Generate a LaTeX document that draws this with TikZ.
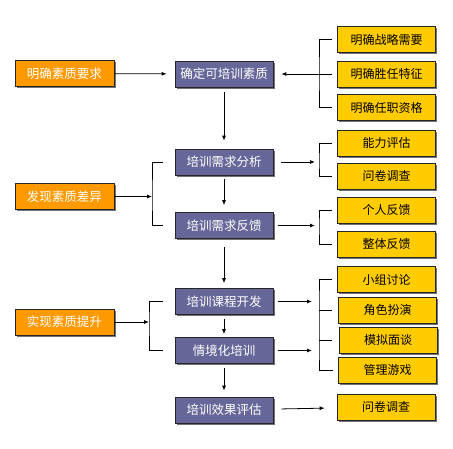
\documentclass[tikz,border=0pt]{standalone}
\usepackage{fontspec}
\setmainfont{Noto Sans CJK SC}
\usetikzlibrary{arrows.meta,shadows}
\definecolor{boxorange}{HTML}{FF9900}
\definecolor{boxpurple}{HTML}{666699}
\definecolor{boxyellow}{HTML}{FFCC00}
\begin{document}
\begin{tikzpicture}[x=1pt,y=-1pt,line width=0.8pt,
  box/.style={draw=black!85,line width=0.7pt,minimum height=26pt,inner sep=0pt,
    drop shadow={shadow xshift=1.5pt,shadow yshift=-1.5pt,fill=black!55,opacity=1}},
  orangebox/.style={box,fill=boxorange,minimum width=99pt,text=white,font=\fontsize{12.5}{13}\selectfont},
  purplebox/.style={box,fill=boxpurple,minimum width=98pt,text=white,font=\fontsize{12.5}{13}\selectfont},
  yellowbox/.style={box,fill=boxyellow,minimum width=98pt,text=black,font=\fontsize{12}{13}\selectfont},
  arr/.style={-{Latex[length=5pt,width=4pt]}}]
\useasboundingbox (0,0) rectangle (453,448);
% left column
\node[orangebox] (o1) at (64.5,73.5) {明确素质要求};
\node[orangebox] (o2) at (64.5,196.5) {发现素质差异};
\node[orangebox] (o3) at (64.5,322) {实现素质提升};
% middle column
\node[purplebox] (p1) at (224,74) {确定可培训素质};
\node[purplebox] (p2) at (224,162) {培训需求分析};
\node[purplebox] (p3) at (224,225.5) {培训需求反馈};
\node[purplebox] (p4) at (224,301.5) {培训课程开发};
\node[purplebox] (p5) at (224,350.5) {情境化培训};
\node[purplebox] (p6) at (224,410) {培训效果评估};
% right column
\node[yellowbox] (y1) at (386.5,39.5) {明确战略需要};
\node[yellowbox] (y2) at (386.5,74) {明确胜任特征};
\node[yellowbox] (y3) at (386.5,107.5) {明确任职资格};
\node[yellowbox] (y4) at (386.5,143) {能力评估};
\node[yellowbox] (y5) at (386.5,176) {问卷调查};
\node[yellowbox] (y6) at (386.5,210) {个人反馈};
\node[yellowbox] (y7) at (386.5,244) {整体反馈};
\node[yellowbox] (y8) at (386.5,279.5) {小组讨论};
\node[yellowbox] (y9) at (387.5,310) {角色扮演};
\node[yellowbox] (y10) at (388,340) {模拟面谈};
\node[yellowbox] (y11) at (387.5,370) {管理游戏};
\node[yellowbox] (y12) at (386,407) {问卷调查};
% bracket points
\coordinate (l2) at (152,196.5); \coordinate (l3) at (149,322);
\coordinate (r1) at (319,74); \coordinate (r2) at (319,162); \coordinate (r3) at (319,225.5);
\coordinate (r4a) at (319,301.5); \coordinate (r4b) at (319,350.5);
% down the middle
\draw[arr,shorten <=5pt,shorten >=8pt] (p1) -- (p2);
\draw[arr,shorten <=4pt,shorten >=7pt] (p2) -- (p3);
\draw[arr,shorten <=8pt,shorten >=5pt] (p3) -- (p4);
\draw[arr,shorten <=4pt,shorten >=3pt] (p4) -- (p5);
\draw[arr,shorten <=4pt,shorten >=6pt] (p5) -- (p6);
% left side
\draw[arr,shorten >=8pt] (o1) -- (p1);
\draw[arr] (o2) -- (l2);
\draw ([xshift=-12pt]p2.west) -| (l2) |- ([xshift=-12pt]p3.west);
\draw[arr] (o3) -- (l3);
\draw ([xshift=-12pt]p4.west) -| (l3) |- ([xshift=-12pt]p5.west);
% right side
\draw ([xshift=-5pt]y1.west) -| (r1) |- ([xshift=-5pt]y3.west);
\draw (r1) -- ([xshift=-5pt]y2.west);
\draw[arr,shorten >=8pt] (r1) -- (p1);
\draw ([xshift=-5pt]y4.west) -| (r2) |- ([xshift=-5pt]y5.west);
\draw[arr,shorten <=8pt,shorten >=4pt] (p2) -- (r2);
\draw ([xshift=-5pt]y6.west) -| (r3) |- ([xshift=-5pt]y7.west);
\draw[arr,shorten <=5pt,shorten >=4pt] (p3) -- (r3);
\draw ([xshift=-5pt]y8.west) -| (r4a) -- (r4b) |- ([xshift=-5pt]y11.west);
\draw (y9.west -| r4a) -- ([xshift=-6pt]y9.west);
\draw (y10.west -| r4a) -- ([xshift=-7pt]y10.west);
\draw[arr,shorten <=5pt,shorten >=7pt] (p4) -- (r4a);
\draw[arr,shorten <=5pt,shorten >=7pt] (p5) -- (r4b);
\draw[arr,shorten <=8pt,shorten >=12pt] (p6) -- (y12);
\end{tikzpicture}
\end{document}
